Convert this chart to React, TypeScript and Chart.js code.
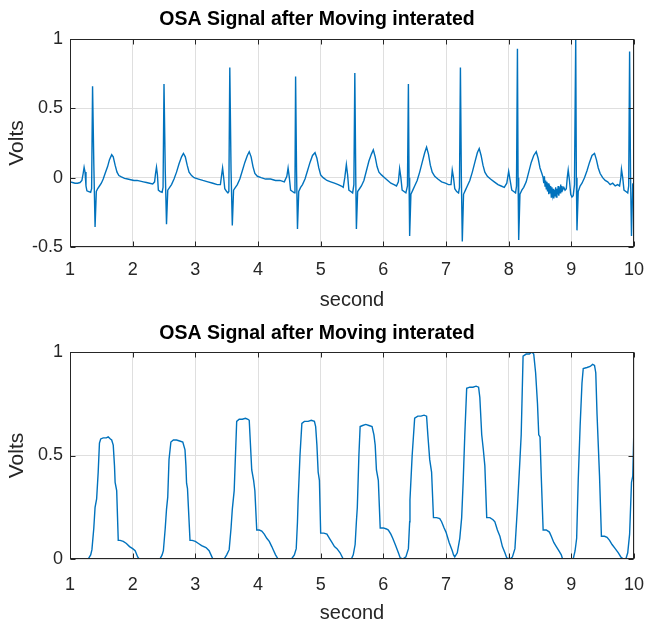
import React, { useEffect, useRef } from "react";
import { Chart, registerables } from "chart.js";
Chart.register(...registerables);

// ---------- data ----------
const chartTitle = "OSA Signal after Moving interated";
const xLabel = "second";
const yLabel = "Volts";
const xTicks = [1, 2, 3, 4, 5, 6, 7, 8, 9, 10];
const topYTicks = [-0.5, 0, 0.5, 1];
const bottomYTicks = [0, 0.5, 1];

const ecgTime = [
  1.00, 1.04, 1.08, 1.12, 1.16, 1.19, 1.21, 1.225, 1.24, 1.255, 1.27, 1.30, 1.33, 1.345, 1.36, 1.38, 1.40, 1.42, 1.44, 1.47,
  1.50, 1.53, 1.56, 1.60, 1.63, 1.665, 1.69, 1.72, 1.75, 1.78, 1.82, 1.87, 1.92, 1.97, 2.02, 2.07, 2.12, 2.17, 2.22, 2.27,
  2.32, 2.35, 2.365, 2.38, 2.395, 2.41, 2.44, 2.47, 2.485, 2.50, 2.52, 2.54, 2.56, 2.59, 2.62, 2.66, 2.70, 2.74, 2.78, 2.81,
  2.84, 2.87, 2.90, 2.94, 2.98, 3.05, 3.12, 3.20, 3.28, 3.35, 3.40, 3.42, 3.435, 3.45, 3.47, 3.50, 3.52, 3.535, 3.55, 3.57,
  3.59, 3.61, 3.64, 3.67, 3.71, 3.75, 3.79, 3.83, 3.86, 3.89, 3.92, 3.95, 3.99, 4.05, 4.12, 4.20, 4.28, 4.35, 4.42, 4.46,
  4.48, 4.50, 4.52, 4.55, 4.58, 4.59, 4.60, 4.615, 4.63, 4.65, 4.68, 4.71, 4.75, 4.79, 4.83, 4.87, 4.91, 4.94, 4.97, 5.00,
  5.04, 5.10, 5.16, 5.22, 5.28, 5.33, 5.36, 5.385, 5.41, 5.43, 5.45, 5.48, 5.51, 5.53, 5.545, 5.56, 5.57, 5.59, 5.62, 5.65,
  5.69, 5.73, 5.77, 5.81, 5.84, 5.87, 5.90, 5.93, 5.97, 6.02, 6.07, 6.12, 6.17, 6.21, 6.24, 6.26, 6.28, 6.30, 6.33, 6.36,
  6.385, 6.40, 6.41, 6.42, 6.44, 6.47, 6.50, 6.54, 6.58, 6.62, 6.66, 6.69, 6.72, 6.75, 6.78, 6.82, 6.87, 6.93, 6.99, 7.04,
  7.08, 7.10, 7.12, 7.14, 7.17, 7.20, 7.215, 7.23, 7.245, 7.26, 7.28, 7.31, 7.34, 7.38, 7.42, 7.46, 7.50, 7.53, 7.56, 7.59,
  7.62, 7.66, 7.71, 7.77, 7.83, 7.88, 7.93, 7.97, 8.00, 8.02, 8.05, 8.08, 8.11, 8.125, 8.14, 8.15, 8.16, 8.18, 8.21, 8.24,
  8.28, 8.32, 8.36, 8.40, 8.44, 8.47, 8.50, 8.53, 8.55, 8.56, 8.57, 8.58, 8.59, 8.60, 8.61, 8.62, 8.63, 8.64, 8.65, 8.66,
  8.67, 8.68, 8.69, 8.70, 8.71, 8.72, 8.73, 8.74, 8.75, 8.76, 8.77, 8.78, 8.79, 8.80, 8.81, 8.82, 8.83, 8.84, 8.85, 8.86,
  8.88, 8.90, 8.92, 8.935, 8.95, 8.97, 8.99, 9.01, 9.03, 9.05, 9.07, 9.08, 9.09, 9.11, 9.14, 9.17, 9.21, 9.25, 9.29, 9.33,
  9.37, 9.40, 9.43, 9.46, 9.50, 9.54, 9.58, 9.62, 9.66, 9.70, 9.74, 9.77, 9.79, 9.80, 9.82, 9.84, 9.87, 9.90, 9.915, 9.93,
  9.945, 9.96, 9.98, 10.00,
];
const ecgVolts = [
  -0.03, -0.035, -0.04, -0.04, -0.035, -0.02, 0.03, 0.075, 0.04, -0.06, -0.095, -0.1, -0.105, -0.08, 0.66, 0.1, -0.355, -0.1, -0.08, -0.06,
  -0.04, -0.01, 0.03, 0.08, 0.13, 0.166, 0.15, 0.09, 0.04, 0.015, 0.005, -0.005, -0.01, -0.015, -0.02, -0.02, -0.025, -0.03, -0.035, -0.04,
  -0.045, -0.03, 0.03, 0.075, 0.02, -0.09, -0.1, -0.105, -0.07, 0.675, 0.05, -0.335, -0.09, -0.07, -0.05, -0.01, 0.04, 0.1, 0.15, 0.175,
  0.15, 0.09, 0.04, 0.015, 0.0, -0.01, -0.02, -0.03, -0.04, -0.05, -0.05, 0.02, 0.07, 0.01, -0.08, -0.1, -0.11, -0.1, 0.795, 0.05,
  -0.345, -0.09, -0.07, -0.05, -0.01, 0.05, 0.11, 0.16, 0.187, 0.15, 0.08, 0.03, 0.01, 0.0, -0.01, -0.01, -0.02, -0.02, -0.03, 0.01,
  0.07, 0.0, -0.09, -0.1, -0.11, -0.06, 0.73, 0.05, -0.37, -0.1, -0.07, -0.05, -0.01, 0.05, 0.11, 0.16, 0.18, 0.14, 0.07, 0.02,
  0.0, -0.02, -0.03, -0.04, -0.05, -0.06, -0.07, 0.0, 0.094, 0.02, -0.09, -0.1, -0.11, -0.05, 0.755, 0.0, -0.37, -0.1, -0.08, -0.06,
  -0.02, 0.05, 0.12, 0.17, 0.2, 0.15, 0.08, 0.04, 0.02, 0.0, -0.02, -0.04, -0.05, -0.06, -0.03, 0.065, 0.0, -0.09, -0.1, -0.11,
  -0.06, 0.675, 0.0, -0.42, -0.12, -0.09, -0.06, -0.02, 0.04, 0.11, 0.18, 0.22, 0.17, 0.09, 0.04, 0.01, -0.01, -0.03, -0.04, -0.05,
  -0.05, 0.055, 0.0, -0.08, -0.1, -0.11, -0.07, 0.795, 0.0, -0.46, -0.12, -0.09, -0.06, -0.02, 0.04, 0.11, 0.18, 0.21, 0.16, 0.09,
  0.04, 0.01, -0.01, -0.03, -0.05, -0.06, -0.07, -0.04, 0.045, -0.01, -0.09, -0.1, -0.11, -0.06, 0.93, 0.0, -0.45, -0.12, -0.09, -0.07,
  -0.03, 0.04, 0.11, 0.16, 0.187, 0.14, 0.07, 0.03, 0.0, -0.04, 0.01, -0.06, -0.02, -0.08, -0.03, -0.1, -0.04, -0.12, -0.05, -0.11,
  -0.06, -0.14, -0.07, -0.12, -0.08, -0.15, -0.09, -0.13, -0.07, -0.14, -0.08, -0.12, -0.06, -0.13, -0.07, -0.11, -0.05, -0.1, -0.06, -0.09,
  -0.07, -0.09, -0.08, 0.0, 0.055, -0.02, -0.12, -0.14, -0.13, -0.05, 1.0, 0.0, -0.38, -0.1, -0.06, -0.04, 0.0, 0.05, 0.11, 0.16,
  0.175, 0.13, 0.07, 0.03, 0.0, -0.02, -0.03, -0.05, -0.04, -0.06, -0.05, -0.06, 0.0, 0.06, 0.0, -0.09, -0.1, -0.11, -0.06, 0.91,
  0.0, -0.42, -0.05, -0.06,
];

const envTime = [
  1.00, 1.29, 1.33, 1.35, 1.38, 1.40, 1.425, 1.45, 1.47, 1.49, 1.53, 1.58, 1.61, 1.645, 1.665, 1.69, 1.71, 1.72, 1.745, 1.77,
  1.80, 1.85, 1.90, 1.95, 2.00, 2.04, 2.08, 2.105, 2.435, 2.47, 2.49, 2.52, 2.54, 2.56, 2.58, 2.61, 2.65, 2.70, 2.75, 2.80,
  2.835, 2.85, 2.86, 2.875, 2.915, 2.95, 3.00, 3.05, 3.10, 3.17, 3.22, 3.25, 3.28, 3.46, 3.50, 3.54, 3.57, 3.59, 3.62, 3.66,
  3.70, 3.75, 3.80, 3.84, 3.86, 3.88, 3.90, 3.93, 3.95, 3.98, 4.02, 4.06, 4.10, 4.14, 4.18, 4.22, 4.25, 4.28, 4.32, 4.535,
  4.58, 4.61, 4.63, 4.64, 4.67, 4.70, 4.74, 4.80, 4.85, 4.90, 4.92, 4.94, 4.96, 4.98, 5.00, 5.05, 5.10, 5.14, 5.18, 5.22,
  5.26, 5.31, 5.36, 5.49, 5.52, 5.55, 5.57, 5.585, 5.61, 5.63, 5.67, 5.72, 5.77, 5.82, 5.85, 5.87, 5.89, 5.92, 5.95, 6.00,
  6.05, 6.08, 6.12, 6.15, 6.19, 6.24, 6.27, 6.31, 6.36, 6.40, 6.42, 6.425, 6.46, 6.50, 6.55, 6.60, 6.65, 6.69, 6.71, 6.74,
  6.77, 6.80, 6.85, 6.90, 6.93, 6.97, 7.00, 7.05, 7.10, 7.12, 7.14, 7.18, 7.22, 7.25, 7.275, 7.30, 7.33, 7.38, 7.43, 7.48,
  7.52, 7.54, 7.57, 7.595, 7.62, 7.65, 7.70, 7.75, 7.78, 7.82, 7.86, 7.90, 7.94, 7.97, 8.02, 8.06, 8.10, 8.14, 8.18, 8.20,
  8.23, 8.28, 8.33, 8.37, 8.40, 8.43, 8.46, 8.48, 8.50, 8.52, 8.55, 8.60, 8.65, 8.68, 8.72, 8.76, 8.80, 8.84, 8.86, 9.03,
  9.06, 9.085, 9.11, 9.14, 9.17, 9.19, 9.25, 9.30, 9.34, 9.37, 9.39, 9.41, 9.43, 9.45, 9.48, 9.53, 9.57, 9.61, 9.65, 9.70,
  9.75, 9.79, 9.83, 9.87, 9.90, 9.93, 9.96, 9.98, 10.00,
];
const envVolts = [
  0, 0, 0.02, 0.045, 0.15, 0.25, 0.29, 0.42, 0.56, 0.58, 0.585, 0.585, 0.59, 0.58, 0.575, 0.55, 0.45, 0.37, 0.33, 0.09,
  0.09, 0.085, 0.075, 0.06, 0.05, 0.04, 0.01, 0, 0, 0.02, 0.04, 0.15, 0.24, 0.3, 0.48, 0.565, 0.575, 0.575, 0.57, 0.565,
  0.527, 0.45, 0.366, 0.34, 0.09, 0.09, 0.085, 0.075, 0.065, 0.055, 0.04, 0.02, 0, 0, 0.02, 0.045, 0.15, 0.24, 0.33, 0.665,
  0.675, 0.675, 0.68, 0.675, 0.67, 0.55, 0.43, 0.38, 0.33, 0.14, 0.14, 0.135, 0.12, 0.1, 0.085, 0.06, 0.04, 0.02, 0, 0,
  0.02, 0.05, 0.18, 0.28, 0.5, 0.655, 0.665, 0.665, 0.67, 0.665, 0.64, 0.55, 0.42, 0.38, 0.125, 0.125, 0.12, 0.1, 0.08, 0.06,
  0.05, 0.03, 0, 0, 0.02, 0.07, 0.18, 0.25, 0.5, 0.64, 0.645, 0.65, 0.645, 0.64, 0.6, 0.55, 0.43, 0.38, 0.15, 0.15,
  0.145, 0.14, 0.12, 0.1, 0.07, 0.03, 0.005, 0, 0.01, 0.05, 0.18, 0.285, 0.5, 0.68, 0.69, 0.69, 0.695, 0.69, 0.6, 0.48,
  0.42, 0.2, 0.2, 0.195, 0.18, 0.15, 0.13, 0.08, 0.04, 0.02, 0.01, 0.03, 0.1, 0.2, 0.38, 0.6, 0.825, 0.83, 0.83, 0.835,
  0.83, 0.78, 0.6, 0.53, 0.45, 0.2, 0.2, 0.19, 0.18, 0.14, 0.11, 0.06, 0.03, 0.005, 0, 0.01, 0.05, 0.25, 0.48, 0.6,
  0.98, 0.99, 0.99, 1.0, 0.99, 0.9, 0.75, 0.6, 0.59, 0.4, 0.14, 0.14, 0.13, 0.11, 0.08, 0.06, 0.04, 0.02, 0, 0,
  0.04, 0.1, 0.38, 0.64, 0.85, 0.92, 0.925, 0.93, 0.94, 0.935, 0.9, 0.7, 0.55, 0.4, 0.11, 0.11, 0.105, 0.09, 0.07, 0.05,
  0.03, 0.01, 0, 0, 0.03, 0.12, 0.37, 0.4, 0.65,
];

// ---------- styling ----------
const FONT = "'Liberation Sans', Arial, Helvetica, sans-serif";
const LINE_COLOR = "#0072BD";
const AXIS_COLOR = "#262626";
const GRID_COLOR = "#dfdfdf";

const framePlugin = {
  id: "matlabFrame",
  afterDatasetsDraw(chart: any) {
    const { ctx, chartArea: a, scales } = chart;
    const x = scales.x;
    const y = scales.y;
    ctx.save();
    ctx.strokeStyle = AXIS_COLOR;
    ctx.lineWidth = 1;
    ctx.beginPath();
    const L = Math.round(a.left) + 0.5;
    const R = Math.round(a.right) - 0.5;
    const T = Math.round(a.top) + 0.5;
    const B = Math.round(a.bottom) - 0.5;
    x.ticks.forEach((t: any) => {
      const px = Math.round(x.getPixelForValue(t.value)) + 0.5;
      ctx.moveTo(px, B);
      ctx.lineTo(px, B - 5);
      ctx.moveTo(px, T);
      ctx.lineTo(px, T + 5);
    });
    y.ticks.forEach((t: any) => {
      const py = Math.round(y.getPixelForValue(t.value)) + 0.5;
      ctx.moveTo(L, py);
      ctx.lineTo(L + 5, py);
      ctx.moveTo(R, py);
      ctx.lineTo(R - 5, py);
    });
    ctx.stroke();
    ctx.strokeRect(L, T, R - L, B - T);
    ctx.restore();
  },
};

type PanelProps = {
  times: number[];
  values: number[];
  yTicks: number[];
  height: number;
  titlePad: { top: number; bottom: number };
  xAxisHeight: number;
  xTickGap: number;
  xTitlePad: number;
};

function Panel(p: PanelProps) {
  const ref = useRef<HTMLCanvasElement | null>(null);
  useEffect(() => {
    if (!ref.current) return;
    const pts = p.times.map((t, i) => ({ x: t, y: p.values[i] }));
    const yMin = Math.min(...p.yTicks);
    const yMax = Math.max(...p.yTicks);
    const chart = new Chart(ref.current, {
      type: "line",
      data: {
        datasets: [
          {
            data: pts,
            borderColor: LINE_COLOR,
            borderWidth: 1.4,
            pointRadius: 0,
            tension: 0,
            fill: false,
          },
        ],
      },
      options: {
        animation: false,
        responsive: false,
        devicePixelRatio: 1,
        parsing: false,
        layout: { padding: { left: 0, right: 12, top: 0, bottom: 0 } },
        plugins: {
          legend: { display: false },
          tooltip: { enabled: false },
          title: {
            display: true,
            text: chartTitle,
            color: "#000000",
            font: { family: FONT, size: 19.5, weight: "bold" },
            padding: p.titlePad,
          },
        },
        scales: {
          x: {
            type: "linear",
            min: xTicks[0],
            max: xTicks[xTicks.length - 1],
            afterBuildTicks: (s: any) => {
              s.ticks = xTicks.map((v) => ({ value: v }));
            },
            afterFit: (s: any) => {
              s.height = p.xAxisHeight;
            },
            grid: {
              color: GRID_COLOR,
              drawTicks: true,
              tickLength: p.xTickGap,
              tickColor: "rgba(0,0,0,0)",
              lineWidth: 1,
            },
            border: { display: false },
            ticks: {
              color: AXIS_COLOR,
              font: { family: FONT, size: 18 },
              padding: 0,
              maxRotation: 0,
              autoSkip: false,
              callback: (v: any) => String(v),
            },
            title: {
              display: true,
              text: xLabel,
              color: AXIS_COLOR,
              font: { family: FONT, size: 20 },
              padding: { top: 0, bottom: p.xTitlePad },
            },
          },
          y: {
            type: "linear",
            min: yMin,
            max: yMax,
            afterBuildTicks: (s: any) => {
              s.ticks = p.yTicks.map((v) => ({ value: v }));
            },
            afterFit: (s: any) => {
              s.width = 70;
            },
            grid: { color: GRID_COLOR, drawTicks: false, lineWidth: 1 },
            border: { display: false },
            ticks: {
              color: AXIS_COLOR,
              font: { family: FONT, size: 18 },
              padding: 7,
              autoSkip: false,
              callback: (v: any) => String(v),
            },
            title: {
              display: true,
              text: yLabel,
              color: AXIS_COLOR,
              font: { family: FONT, size: 21 },
              padding: { top: 5, bottom: 0 },
            },
          },
        },
      },
      plugins: [framePlugin],
    } as any);
    return () => chart.destroy();
  }, []);
  return (
    <canvas
      ref={ref}
      width={646}
      height={p.height}
      style={{ display: "block", width: 646, height: p.height }}
    />
  );
}

export default function App() {
  return (
    <div style={{ position: "absolute", left: 0, top: 0, width: 646, height: 627, background: "#fff" }}>
      <Panel
        times={ecgTime}
        values={ecgVolts}
        yTicks={topYTicks}
        height={313}
        titlePad={{ top: 8.3, bottom: 7.3 }}
        xAxisHeight={66}
        xTickGap={12.5}
        xTitlePad={1}
      />
      <Panel
        times={envTime}
        values={envVolts}
        yTicks={bottomYTicks}
        height={314}
        titlePad={{ top: 9.3, bottom: 6.3 }}
        xAxisHeight={68}
        xTickGap={15}
        xTitlePad={2}
      />
    </div>
  );
}
